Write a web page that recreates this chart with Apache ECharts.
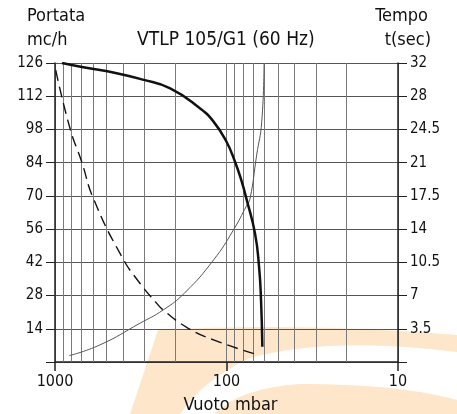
<!DOCTYPE html>
<html><head><meta charset="utf-8">
<script src="https://cdn.jsdelivr.net/npm/echarts@6/dist/echarts.min.js"></script>
<style>
html,body{margin:0;padding:0;background:#fff}
#c{width:457px;height:414px;
background-image:url("data:image/svg+xml;utf8,<svg xmlns='http://www.w3.org/2000/svg' width='457' height='414'><path fill='%23fde6c9' d='M130,414 L158,330 Q300,322 457,335 L457,352 Q330,336 250,358 Q205,378 180,414 Z'/><path fill='%23fde6c9' d='M214,414 Q240,388 300,384 Q400,384 457,400 L457,414 Z'/></svg>");
background-repeat:no-repeat;}
</style>
</head><body><div id="c"></div>
<script>
// ---- data ----
const flowX = [910, 684, 437, 312, 213, 143, 119, 100, 89.2, 81.5, 76.2, 68.2, 64.6, 62.9, 61.8];
const flowY = [126, 124.2, 121.7, 119.1, 115.3, 106.9, 101.3, 92.8, 84.4, 76, 68.3, 54.2, 40.2, 26.1, 6.4];
const timeX = [829, 547, 320, 234, 175, 119, 91.2, 76.2, 72.9, 66.7, 62.3, 60.4];
const timeY = [0.66, 1.8, 4.08, 5.48, 7.3, 10.75, 13.9, 16.5, 17.2, 21.8, 25.3, 31.5];
const dashX = [990, 818, 699, 598, 408, 320, 255, 234, 167, 119, 68.2];
const dashY = [123, 98.5, 84.4, 69, 44.4, 33.2, 24.7, 21.9, 14.2, 9.3, 3.4];
const gridMinor = [20, 30, 40, 50, 60, 70, 80, 90, 200, 300, 400, 500, 600, 700, 800, 900];
const leftTicks = {min: 0, max: 126, step: 14};
const rightTicks = {min: 0, max: 31.5, step: 3.5, topLabel: '32'};
const texts = {
  title: 'VTLP 105/G1 (60 Hz)', leftName1: 'Portata', leftName2: 'mc/h',
  rightName1: 'Tempo', rightName2: 't(sec)', xName: 'Vuoto mbar'
};

const FONT = "'Liberation Sans Narrow','DejaVu Sans Condensed',sans-serif";
const pair = (xs, ys) => xs.map((x, i) => [x, ys[i]]);
const chart = echarts.init(document.getElementById('c'), null, {renderer: 'canvas'});
const axisCol = '#222';
const gridCol = '#7a7a7a';

chart.setOption({
  animation: false,
  backgroundColor: 'transparent',
  grid: {left: 55, right: 59, top: 63, bottom: 52, containLabel: false, outerBoundsMode: 'none'},
  graphic: [
    {type: 'text', left: 27, top: 7, style: {text: texts.leftName1, font: '18px ' + FONT, fill: '#111'}},
    {type: 'text', left: 27, top: 31, style: {text: texts.leftName2, font: '18px ' + FONT, fill: '#111'}},
    {type: 'text', left: 137, top: 31, style: {text: texts.title, font: '19px ' + FONT, fill: '#111'}},
    {type: 'text', right: 29, top: 7, style: {text: texts.rightName1, font: '18px ' + FONT, fill: '#111'}},
    {type: 'text', right: 26, top: 31, style: {text: texts.rightName2, font: '18px ' + FONT, fill: '#111'}}
  ],
  xAxis: {
    type: 'log', logBase: 10, min: 10, max: 1000, inverse: true,
    name: texts.xName, nameLocation: 'middle', nameGap: 34,
    nameTextStyle: {fontFamily: FONT, fontSize: 18, color: '#111', padding: [0, 0, 0, 8]},
    axisLine: {show: true, lineStyle: {color: axisCol, width: 1.5}},
    axisTick: {show: true, length: 9, lineStyle: {color: axisCol, width: 1.5}},
    axisLabel: {fontFamily: FONT, fontSize: 16, color: '#111', margin: 12, formatter: v => String(v)},
    splitLine: {show: true, lineStyle: {color: gridCol, width: 1}}
  },
  yAxis: [
    {
      type: 'value', position: 'left', min: leftTicks.min, max: leftTicks.max, interval: leftTicks.step,
      axisLine: {show: true, lineStyle: {color: axisCol, width: 1.5}},
      axisTick: {show: true, length: 9, lineStyle: {color: axisCol, width: 1}},
      axisLabel: {fontFamily: FONT, fontSize: 15, color: '#111', margin: 12,
        formatter: v => v === 0 ? '' : String(v)},
      splitLine: {show: true, lineStyle: {color: '#555', width: 1}}
    },
    {
      type: 'value', position: 'right', min: rightTicks.min, max: rightTicks.max, interval: rightTicks.step,
      axisLine: {show: true, lineStyle: {color: axisCol, width: 1.5}},
      axisTick: {show: true, length: 9, lineStyle: {color: axisCol, width: 1}},
      axisLabel: {fontFamily: FONT, fontSize: 15, color: '#111', margin: 12,
        formatter: v => v === 0 ? '' : (v === rightTicks.max ? rightTicks.topLabel : String(v))},
      splitLine: {show: false}
    }
  ],
  series: [
    {
      name: 'Portata', type: 'line', yAxisIndex: 0, data: pair(flowX, flowY), smooth: 0.5,
      showSymbol: false, z: 5, lineStyle: {color: '#111', width: 2.5},
      markLine: {
        silent: true, symbol: ['none', 'none'], label: {show: false}, z: 1,
        lineStyle: {color: gridCol, width: 1, type: 'solid'},
        data: gridMinor.map(v => ({xAxis: v}))
      }
    },
    {
      name: 'Tempo', type: 'line', yAxisIndex: 1, data: pair(timeX, timeY), smooth: 0.5,
      showSymbol: false, z: 4, lineStyle: {color: '#555', width: 1}
    },
    {
      name: 'Dashed', type: 'line', yAxisIndex: 0, data: pair(dashX, dashY), smooth: 0.5,
      showSymbol: false, z: 4, lineStyle: {color: '#111', width: 1.4, type: [11, 6]}
    }
  ]
});
</script>
</body></html>
